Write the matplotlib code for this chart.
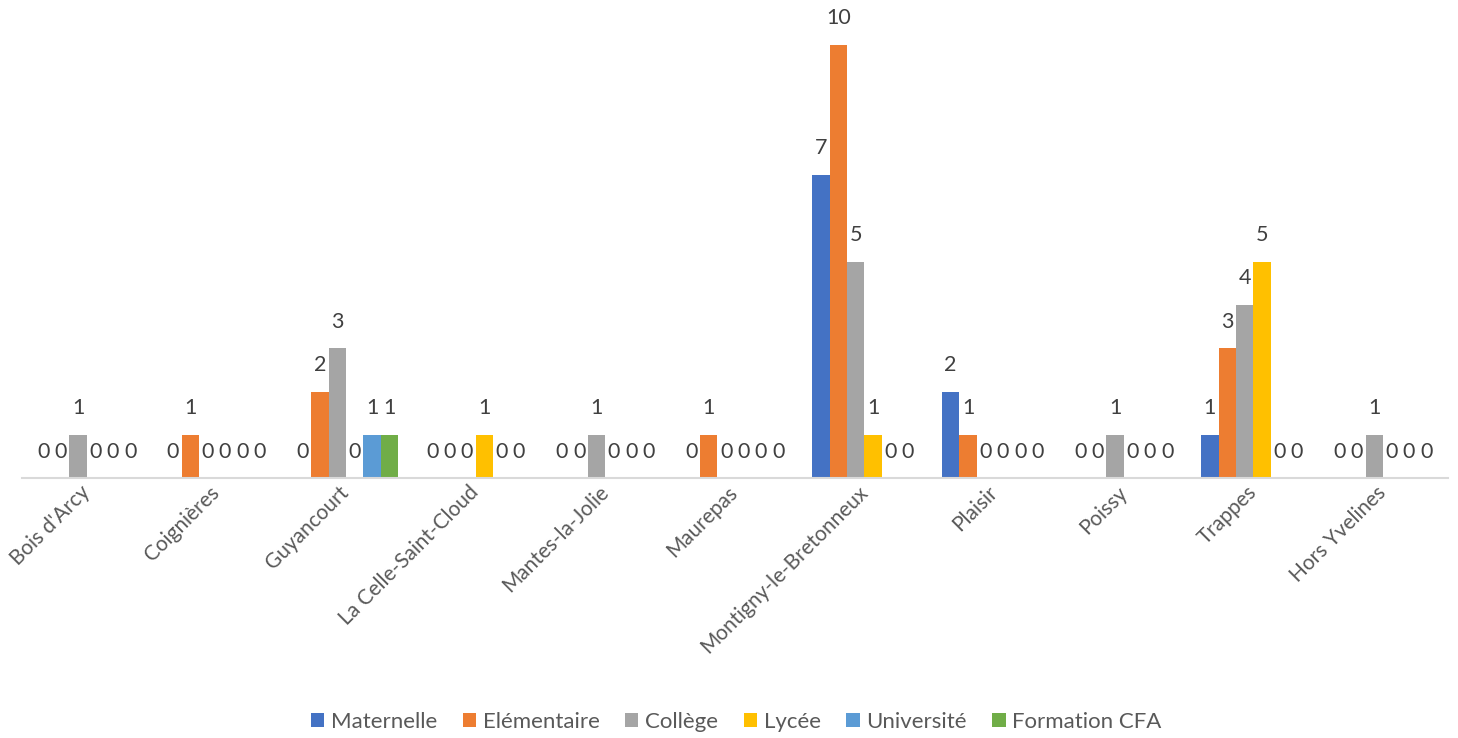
import matplotlib.pyplot as plt
import numpy as np

plt.rcParams['font.family'] = ['Lato', 'DejaVu Sans']

communes = ["Bois d'Arcy", "Coignières", "Guyancourt", "La Celle-Saint-Cloud",
            "Mantes-la-Jolie", "Maurepas", "Montigny-le-Bretonneux", "Plaisir",
            "Poissy", "Trappes", "Hors Yvelines"]
maternelle = [0, 0, 0, 0, 0, 0, 7, 2, 0, 1, 0]
elementaire = [0, 1, 2, 0, 0, 1, 10, 1, 0, 3, 0]
college = [1, 0, 3, 0, 1, 0, 5, 0, 1, 4, 1]
lycee = [0, 0, 0, 1, 0, 0, 1, 0, 0, 5, 0]
universite = [0, 0, 1, 0, 0, 0, 0, 0, 0, 0, 0]
cfa = [0, 0, 1, 0, 0, 0, 0, 0, 0, 0, 0]

series = [("Maternelle", maternelle, "#4472C4"),
          ("Elémentaire", elementaire, "#ED7D31"),
          ("Collège", college, "#A5A5A5"),
          ("Lycée", lycee, "#FFC000"),
          ("Université", universite, "#5B9BD5"),
          ("Formation CFA", cfa, "#70AD47")]

fig = plt.figure(figsize=(14.58, 7.38), dpi=100)
ax = fig.add_axes([0.015, 0.352, 0.978, 0.587])

x = np.arange(len(communes))
w = 0.134
for i, (name, vals, col) in enumerate(series):
    pos = x + (i - 2.5) * w
    bars = ax.bar(pos, vals, w, color=col, label=name)
    for b, v in zip(bars, vals):
        ax.annotate(str(v), (b.get_x() + b.get_width() / 2, v),
                    xytext=(0, 12), textcoords='offset points',
                    ha='center', va='bottom', fontsize=15.5, color='#404040',
                    annotation_clip=False)

ax.set_xlim(-0.5, len(communes) - 0.5)
ax.set_ylim(0, 10)
ax.set_yticks([])
for s in ['top', 'right', 'left']:
    ax.spines[s].set_visible(False)
ax.spines['bottom'].set_color('#D9D9D9')
ax.spines['bottom'].set_linewidth(1.5)
ax.set_xticks(x)
ax.set_xticklabels(communes, rotation=45, ha='right', va='center',
                   rotation_mode='anchor', fontsize=15, color='#595959')
ax.tick_params(axis='x', length=0, pad=8)

fig.legend(loc='center', bbox_to_anchor=(0.505, 0.022), ncol=6, frameon=False,
           fontsize=16, labelcolor='#595959', handlelength=0.6,
           handleheight=0.6, handletextpad=0.3, columnspacing=1.15)

fig.savefig('out.png', dpi=100)
